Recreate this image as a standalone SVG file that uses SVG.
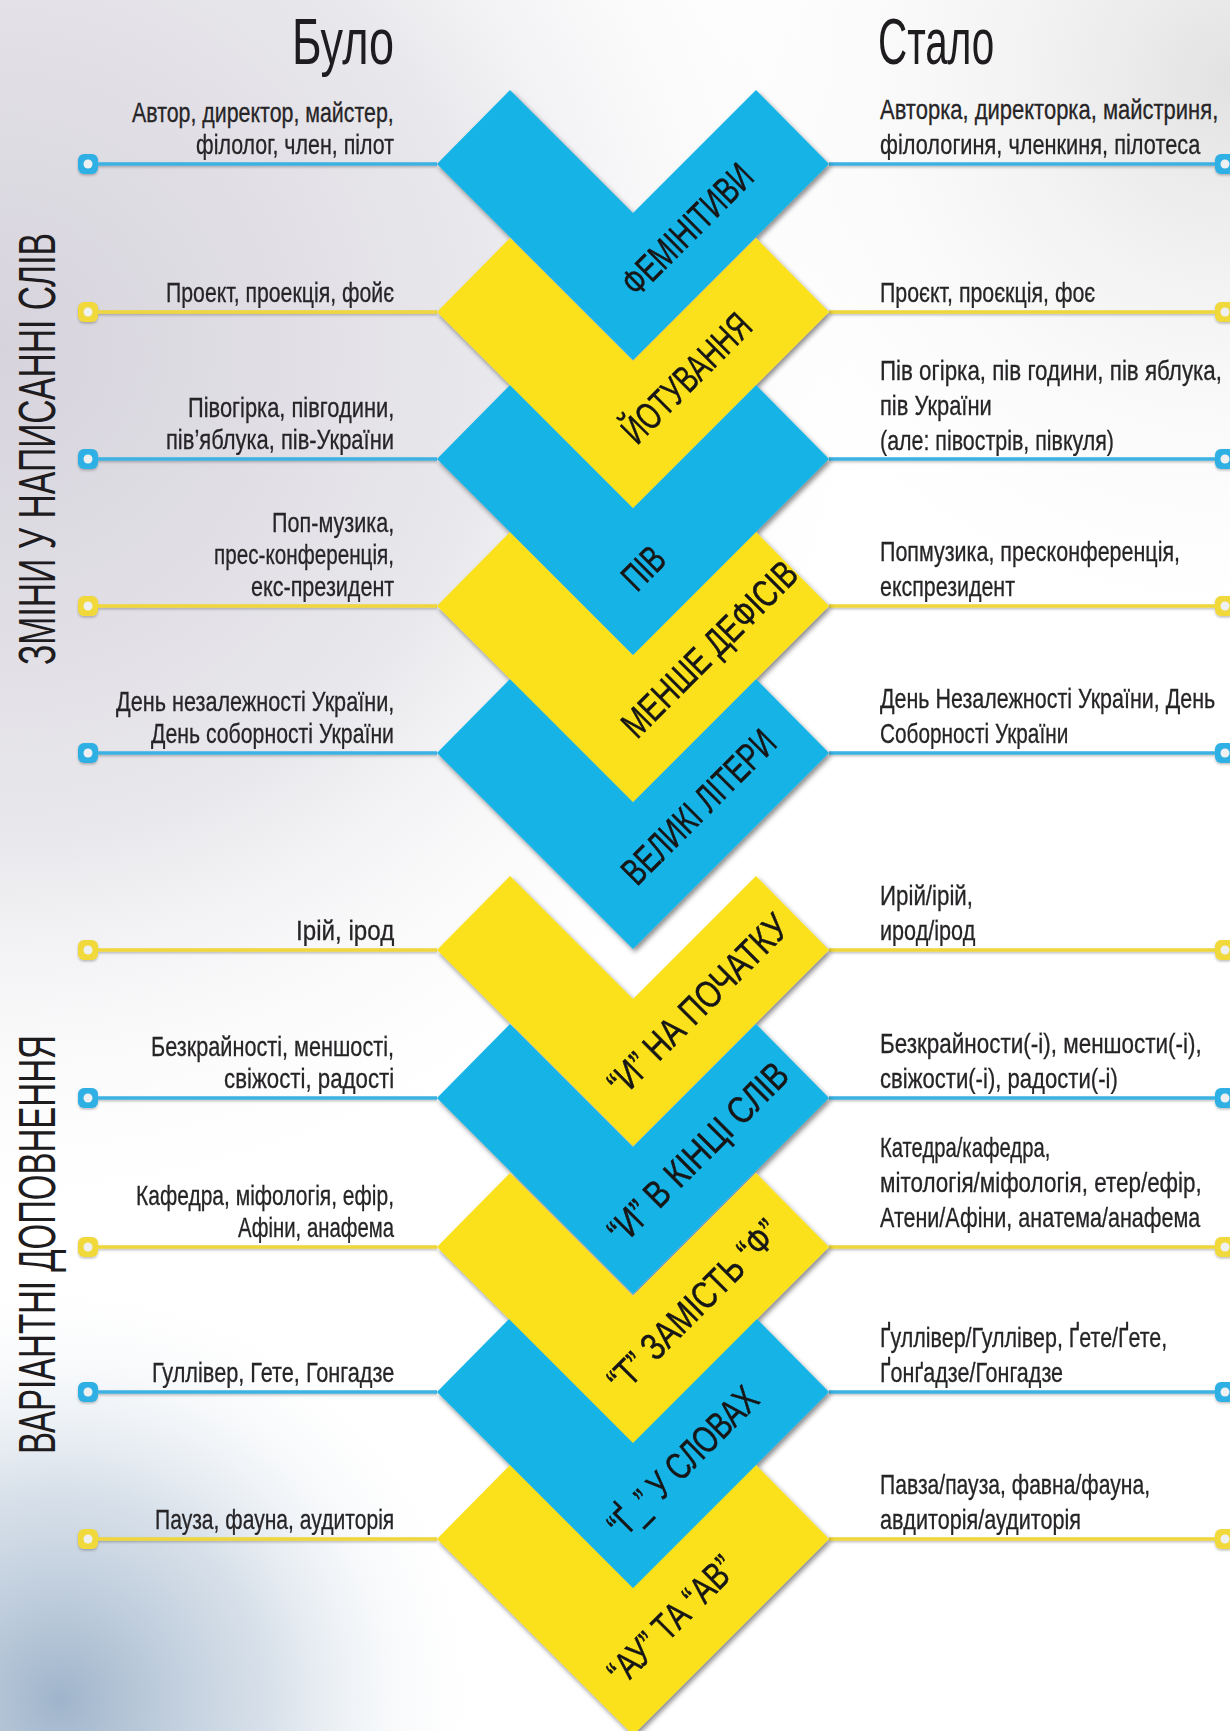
<svg xmlns="http://www.w3.org/2000/svg" xmlns:xlink="http://www.w3.org/1999/xlink" width="1230" height="1731" viewBox="0 0 1230 1731">
<style>
.t{font-family:'Liberation Sans',Arial,sans-serif;font-size:28px;fill:#262426;stroke:#262426;stroke-width:0.3}
.title{font-family:'Liberation Sans',Arial,sans-serif;font-size:64px;fill:#1e1c1e}
.side{font-family:'Liberation Sans',Arial,sans-serif;font-size:52px;fill:#1e1c1e}
.lab{font-family:'Liberation Sans',Arial,sans-serif;font-size:38px;fill:#141414;stroke:#141414;stroke-width:0.5}
.cb{fill:#14b3e6}
.cy{fill:#fbe11c}
.lb{stroke:#3cb2e2;stroke-width:3.5;fill:none}
.ly{stroke:#eed63a;stroke-width:3.5;fill:none}
</style>
<defs>
<radialGradient id="bgTL" cx="0" cy="350" r="900" gradientUnits="userSpaceOnUse">
<stop offset="0" stop-color="#d6d3dc"/>
<stop offset="0.55" stop-color="#e9e8ec"/>
<stop offset="1" stop-color="#ffffff" stop-opacity="0"/>
</radialGradient>
<radialGradient id="bgTR" cx="1230" cy="80" r="600" gradientUnits="userSpaceOnUse">
<stop offset="0" stop-color="#e2e2e2"/>
<stop offset="1" stop-color="#ffffff" stop-opacity="0"/>
</radialGradient>
<radialGradient id="bgBL" cx="60" cy="1700" r="430" gradientUnits="userSpaceOnUse">
<stop offset="0" stop-color="#9fb4cb"/>
<stop offset="0.5" stop-color="#c9d5e2" stop-opacity="0.7"/>
<stop offset="1" stop-color="#ffffff" stop-opacity="0"/>
</radialGradient>
<filter id="sh" x="-10%" y="-10%" width="130%" height="130%">
<feDropShadow dx="2" dy="3" stdDeviation="2.5" flood-color="#000" flood-opacity="0.45"/>
</filter>
<filter id="lsh" x="-5%" y="-50%" width="110%" height="300%">
<feDropShadow dx="0" dy="1.5" stdDeviation="1" flood-color="#000" flood-opacity="0.25"/>
</filter>
<g id="pinB"><rect x="-10" y="-10" width="20" height="20" rx="6" fill="#2fb0e4"/><circle r="4.5" fill="#eef0f2"/></g>
<g id="pinY"><rect x="-10" y="-10" width="20" height="20" rx="6" fill="#f1d93a"/><circle r="4.5" fill="#eef0f2"/></g>
</defs>

<g id="background">
<rect width="1230" height="1731" fill="#ffffff"/>
<rect width="1230" height="1731" fill="url(#bgTL)"/>
<rect width="1230" height="1731" fill="url(#bgTR)"/>
<rect width="1230" height="1731" fill="url(#bgBL)"/>
</g>

<g id="connectors" filter="url(#lsh)">
<path class="lb" d="M97 164H437M829 164H1215"/>
<path class="ly" d="M97 312H437M829 312H1215"/>
<path class="lb" d="M97 459H437M829 459H1215"/>
<path class="ly" d="M97 606H437M829 606H1215"/>
<path class="lb" d="M97 753H437M829 753H1215"/>
<path class="ly" d="M97 950H437M829 950H1215"/>
<path class="lb" d="M97 1098H437M829 1098H1215"/>
<path class="ly" d="M97 1247H437M829 1247H1215"/>
<path class="lb" d="M97 1392H437M829 1392H1215"/>
<path class="ly" d="M97 1539H437M829 1539H1215"/>
<use href="#pinB" x="88" y="164"/><use href="#pinB" x="1225" y="164"/>
<use href="#pinY" x="88" y="312"/><use href="#pinY" x="1225" y="312"/>
<use href="#pinB" x="88" y="459"/><use href="#pinB" x="1225" y="459"/>
<use href="#pinY" x="88" y="606"/><use href="#pinY" x="1225" y="606"/>
<use href="#pinB" x="88" y="753"/><use href="#pinB" x="1225" y="753"/>
<use href="#pinY" x="88" y="950"/><use href="#pinY" x="1225" y="950"/>
<use href="#pinB" x="88" y="1098"/><use href="#pinB" x="1225" y="1098"/>
<use href="#pinY" x="88" y="1247"/><use href="#pinY" x="1225" y="1247"/>
<use href="#pinB" x="88" y="1392"/><use href="#pinB" x="1225" y="1392"/>
<use href="#pinY" x="88" y="1539"/><use href="#pinY" x="1225" y="1539"/>
</g>

<g id="chevrons" filter="url(#sh)">
<g id="chevron-10"><path class="cy" d="M437 1539L510 1465L633 1588L756 1465L829 1539L633 1735Z"/><text class="lab" transform="translate(623 1687) rotate(-45) scale(0.7 1)" textLength="234" lengthAdjust="spacingAndGlyphs">“АУ” ТА “АВ”</text></g>
<g id="chevron-9"><path class="cb" d="M437 1392L510 1318L633 1441L756 1318L829 1392L633 1588Z"/><text class="lab" transform="translate(623 1540) rotate(-45) scale(0.7 1)" textLength="279" lengthAdjust="spacingAndGlyphs">“Ґ_” У СЛОВАХ</text></g>
<g id="chevron-8"><path class="cy" d="M437 1247L510 1173L633 1296L756 1173L829 1247L633 1443Z"/><text class="lab" transform="translate(623 1395) rotate(-45) scale(0.7 1)" textLength="323" lengthAdjust="spacingAndGlyphs">“Т” ЗАМІСТЬ “Ф”</text></g>
<g id="chevron-7"><path class="cb" d="M437 1098L510 1024L633 1147L756 1024L829 1098L633 1294Z"/><text class="lab" transform="translate(623 1246) rotate(-45) scale(0.7 1)" textLength="340" lengthAdjust="spacingAndGlyphs">“И” В КІНЦІ СЛІВ</text></g>
<g id="chevron-6"><path class="cy" d="M437 950L510 876L633 999L756 876L829 950L633 1146Z"/><text class="lab" transform="translate(623 1098) rotate(-45) scale(0.7 1)" textLength="340" lengthAdjust="spacingAndGlyphs">“И” НА ПОЧАТКУ</text></g>
<g id="chevron-5"><path class="cb" d="M437 753L510 679L633 802L756 679L829 753L633 949Z"/><text class="lab" transform="translate(637 887) rotate(-45) scale(0.7 1)" textLength="286" lengthAdjust="spacingAndGlyphs">ВЕЛИКІ ЛІТЕРИ</text></g>
<g id="chevron-4"><path class="cy" d="M437 606L510 532L633 655L756 532L829 606L633 802Z"/><text class="lab" transform="translate(637 740) rotate(-45) scale(0.7 1)" textLength="330" lengthAdjust="spacingAndGlyphs">МЕНШЕ ДЕФІСІВ</text></g>
<g id="chevron-3"><path class="cb" d="M437 459L510 385L633 508L756 385L829 459L633 655Z"/><text class="lab" transform="translate(637 593) rotate(-45) scale(0.7 1)" textLength="63" lengthAdjust="spacingAndGlyphs">ПІВ</text></g>
<g id="chevron-2"><path class="cy" d="M437 312L510 238L633 361L756 238L829 312L633 508Z"/><text class="lab" transform="translate(637 446) rotate(-45) scale(0.7 1)" textLength="237" lengthAdjust="spacingAndGlyphs">ЙОТУВАННЯ</text></g>
<g id="chevron-1"><path class="cb" d="M437 164L510 90L633 213L756 90L829 164L633 360Z"/><text class="lab" transform="translate(637 298) rotate(-45) scale(0.7 1)" textLength="240" lengthAdjust="spacingAndGlyphs">ФЕМІНІТИВИ</text></g>
</g>

<g id="titles">
<text class="title" transform="translate(292 64) scale(0.68 1)" textLength="150" lengthAdjust="spacingAndGlyphs">Було</text>
<text class="title" transform="translate(878 64) scale(0.68 1)" textLength="171" lengthAdjust="spacingAndGlyphs">Стало</text>
<text class="side" transform="translate(55 665) rotate(-90) scale(0.6 1)" textLength="720" lengthAdjust="spacingAndGlyphs">ЗМІНИ У НАПИСАННІ СЛІВ</text>
<text class="side" transform="translate(55 1454) rotate(-90) scale(0.6 1)" textLength="698" lengthAdjust="spacingAndGlyphs">ВАРІАНТНІ ДОПОВНЕННЯ</text>
</g>

<g id="before" class="t">
<text transform="translate(132 122) scale(0.75 1)" textLength="349" lengthAdjust="spacingAndGlyphs">Автор, директор, майстер,</text>
<text transform="translate(196 154) scale(0.75 1)" textLength="264" lengthAdjust="spacingAndGlyphs">філолог, член, пілот</text>
<text transform="translate(166 302) scale(0.75 1)" textLength="304" lengthAdjust="spacingAndGlyphs">Проект, проекція, фойє</text>
<text transform="translate(188 417) scale(0.75 1)" textLength="275" lengthAdjust="spacingAndGlyphs">Півогірка, півгодини,</text>
<text transform="translate(166 449) scale(0.75 1)" textLength="304" lengthAdjust="spacingAndGlyphs">пів’яблука, пів-України</text>
<text transform="translate(272 532) scale(0.75 1)" textLength="163" lengthAdjust="spacingAndGlyphs">Поп-музика,</text>
<text transform="translate(214 564) scale(0.75 1)" textLength="240" lengthAdjust="spacingAndGlyphs">прес-конференція,</text>
<text transform="translate(251 596) scale(0.75 1)" textLength="191" lengthAdjust="spacingAndGlyphs">екс-президент</text>
<text transform="translate(116 711) scale(0.75 1)" textLength="371" lengthAdjust="spacingAndGlyphs">День незалежності України,</text>
<text transform="translate(151 743) scale(0.75 1)" textLength="324" lengthAdjust="spacingAndGlyphs">День соборності України</text>
<text transform="translate(296 940) scale(0.75 1)" textLength="131" lengthAdjust="spacingAndGlyphs">Ірій, ірод</text>
<text transform="translate(151 1056) scale(0.75 1)" textLength="324" lengthAdjust="spacingAndGlyphs">Безкрайності, меншості,</text>
<text transform="translate(224 1088) scale(0.75 1)" textLength="227" lengthAdjust="spacingAndGlyphs">свіжості, радості</text>
<text transform="translate(136 1205) scale(0.75 1)" textLength="344" lengthAdjust="spacingAndGlyphs">Кафедра, міфологія, ефір,</text>
<text transform="translate(238 1237) scale(0.75 1)" textLength="208" lengthAdjust="spacingAndGlyphs">Афіни, анафема</text>
<text transform="translate(152 1382) scale(0.75 1)" textLength="323" lengthAdjust="spacingAndGlyphs">Гуллівер, Гете, Гонгадзе</text>
<text transform="translate(155 1529) scale(0.75 1)" textLength="319" lengthAdjust="spacingAndGlyphs">Пауза, фауна, аудиторія</text>
</g>

<g id="after" class="t">
<text transform="translate(880 119) scale(0.75 1)" textLength="451" lengthAdjust="spacingAndGlyphs">Авторка, директорка, майстриня,</text>
<text transform="translate(880 154) scale(0.75 1)" textLength="427" lengthAdjust="spacingAndGlyphs">філологиня, членкиня, пілотеса</text>
<text transform="translate(880 302) scale(0.75 1)" textLength="287" lengthAdjust="spacingAndGlyphs">Проєкт, проєкція, фоє</text>
<text transform="translate(880 380) scale(0.75 1)" textLength="456" lengthAdjust="spacingAndGlyphs">Пів огірка, пів години, пів яблука,</text>
<text transform="translate(880 415) scale(0.75 1)" textLength="149" lengthAdjust="spacingAndGlyphs">пів України</text>
<text transform="translate(880 450) scale(0.75 1)" textLength="312" lengthAdjust="spacingAndGlyphs">(але: півострів, півкуля)</text>
<text transform="translate(880 561) scale(0.75 1)" textLength="400" lengthAdjust="spacingAndGlyphs">Попмузика, пресконференція,</text>
<text transform="translate(880 596) scale(0.75 1)" textLength="180" lengthAdjust="spacingAndGlyphs">експрезидент</text>
<text transform="translate(880 708) scale(0.75 1)" textLength="447" lengthAdjust="spacingAndGlyphs">День Незалежності України, День</text>
<text transform="translate(880 743) scale(0.75 1)" textLength="251" lengthAdjust="spacingAndGlyphs">Соборності України</text>
<text transform="translate(880 905) scale(0.75 1)" textLength="124" lengthAdjust="spacingAndGlyphs">Ирій/ірій,</text>
<text transform="translate(880 940) scale(0.75 1)" textLength="127" lengthAdjust="spacingAndGlyphs">ирод/ірод</text>
<text transform="translate(880 1053) scale(0.75 1)" textLength="429" lengthAdjust="spacingAndGlyphs">Безкрайности(-і), меншости(-і),</text>
<text transform="translate(880 1088) scale(0.75 1)" textLength="317" lengthAdjust="spacingAndGlyphs">свіжости(-і), радости(-і)</text>
<text transform="translate(880 1157) scale(0.75 1)" textLength="227" lengthAdjust="spacingAndGlyphs">Катедра/кафедра,</text>
<text transform="translate(880 1192) scale(0.75 1)" textLength="429" lengthAdjust="spacingAndGlyphs">мітологія/міфологія, етер/ефір,</text>
<text transform="translate(880 1227) scale(0.75 1)" textLength="427" lengthAdjust="spacingAndGlyphs">Атени/Афіни, анатема/анафема</text>
<text transform="translate(880 1347) scale(0.75 1)" textLength="383" lengthAdjust="spacingAndGlyphs">Ґуллівер/Гуллівер, Ґете/Ґете,</text>
<text transform="translate(880 1382) scale(0.75 1)" textLength="244" lengthAdjust="spacingAndGlyphs">Ґонґадзе/Гонгадзе</text>
<text transform="translate(880 1494) scale(0.75 1)" textLength="360" lengthAdjust="spacingAndGlyphs">Павза/пауза, фавна/фауна,</text>
<text transform="translate(880 1529) scale(0.75 1)" textLength="268" lengthAdjust="spacingAndGlyphs">авдиторія/аудиторія</text>
</g>
</svg>
